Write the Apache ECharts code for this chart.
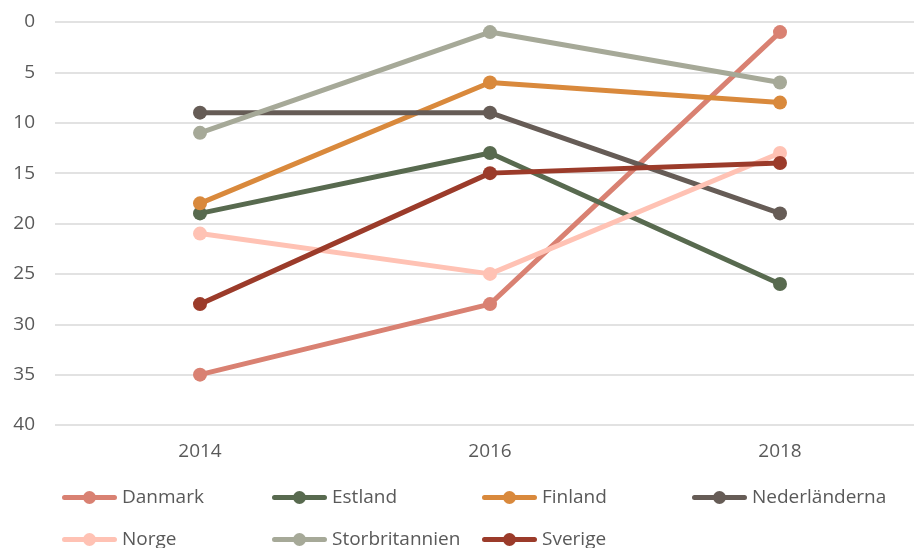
<!DOCTYPE html>
<html>
<head>
<meta charset="utf-8">
<script src="https://cdn.jsdelivr.net/npm/echarts@6/dist/echarts.min.js"></script>
<style>
  html, body { margin: 0; padding: 0; background: #fff; }
  #chart { width: 914px; height: 548px; }
</style>
</head>
<body>
<div id="chart"></div>
<script>
const years = ['2014', '2016', '2018']
const countries = ['Danmark', 'Estland', 'Finland', 'Nederländerna', 'Norge', 'Storbritannien', 'Sverige']
const danmark = [35, 28, 1]
const estland = [19, 13, 26]
const finland = [18, 6, 8]
const nederlanderna = [9, 9, 19]
const norge = [21, 25, 13]
const storbritannien = [11, 1, 6]
const sverige = [28, 15, 14]
const colors = ['#d98172', '#586a4f', '#d9893c', '#665c56', '#ffc2b4', '#a6a998', '#9b3b2a']

const values = [danmark, estland, finland, nederlanderna, norge, storbritannien, sverige]
const font = '"Open Sans", "Noto Sans", sans-serif'

const chart = echarts.init(document.getElementById('chart'))

// thick line with a dot in the middle, like the original legend keys
const legendIcon = 'path://M2.5,4.5 L52.5,4.5 A2.5,2.5 0 0 1 52.5,9.5 L2.5,9.5 A2.5,2.5 0 0 1 2.5,4.5 Z ' +
  'M21,7 A6.5,6.5 0 0 1 34,7 A6.5,6.5 0 0 1 21,7 Z M0,7 L0,7 M55,7 L55,7 M27.5,0 L27.5,0 M27.5,14 L27.5,14'

// one legend per item so the columns line up like the original
const legendPos = [
  [62, 488], [272, 488], [482, 488], [692, 488],
  [62, 530], [272, 530], [482, 530]
]
const legends = countries.map((name, i) => ({
  data: [{ name: name, icon: legendIcon }],
  left: legendPos[i][0],
  top: legendPos[i][1],
  padding: 0,
  itemWidth: 55,
  itemHeight: 14,
  itemGap: 4,
  textStyle: { color: '#595959', fontSize: 19, fontFamily: font }
}))

chart.setOption({
  animation: false,
  color: colors,
  grid: { left: 55, top: 22, width: 870, height: 403, outerBoundsMode: 'none' },
  legend: legends,
  xAxis: {
    type: 'category',
    data: years,
    axisLine: { show: false },
    axisTick: { show: false },
    axisLabel: { color: '#595959', fontSize: 19, fontFamily: font, margin: 17 }
  },
  yAxis: {
    type: 'value',
    inverse: true,
    min: 0,
    max: 40,
    interval: 5,
    axisLine: { show: false },
    axisTick: { show: false },
    axisLabel: { color: '#595959', fontSize: 19, fontFamily: font, margin: 20 },
    splitLine: { lineStyle: { color: '#d9d9d9', width: 1.5 } }
  },
  series: countries.map((name, i) => ({
    name: name,
    type: 'line',
    data: values[i],
    symbol: 'circle',
    symbolSize: 14,
    lineStyle: { width: 5, color: colors[i] },
    itemStyle: { color: colors[i] }
  }))
})
</script>
</body>
</html>
